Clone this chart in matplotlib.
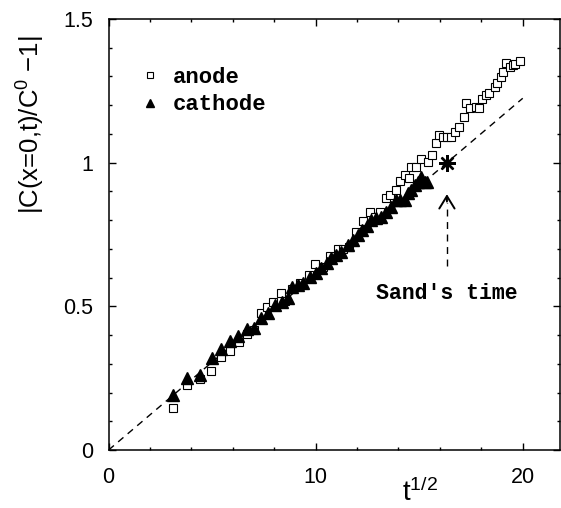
import numpy as np
import matplotlib
matplotlib.use('Agg')
import matplotlib.pyplot as plt

plt.rcParams['font.family'] = ['Liberation Sans', 'DejaVu Sans']
plt.rcParams['mathtext.default'] = 'regular'

# anode (open squares)
t_anode = [3.12, 3.81, 4.41, 4.94, 5.42, 5.87, 6.29, 6.66, 7.03, 7.35, 7.67, 7.95,
           8.32, 8.50, 8.88, 9.23, 9.67, 9.96, 10.36, 10.68, 11.08, 11.32, 11.61,
           11.97, 12.29, 12.61, 12.85, 13.12, 13.38, 13.57, 13.90, 14.09, 14.30,
           14.49, 14.62, 14.83, 15.10, 15.42, 15.63, 15.79, 15.95, 16.15, 16.34,
           16.55, 16.71, 16.92, 17.14, 17.27, 17.43, 17.72, 17.88, 18.05, 18.21,
           18.37, 18.64, 18.75, 18.96, 19.04, 19.20, 19.40, 19.52, 19.65, 19.85]
c_anode = [0.146, 0.226, 0.246, 0.276, 0.325, 0.346, 0.375, 0.404, 0.418, 0.476,
           0.499, 0.516, 0.548, 0.520, 0.559, 0.580, 0.608, 0.646, 0.638, 0.676,
           0.698, 0.700, 0.708, 0.760, 0.797, 0.827, 0.812, 0.827, 0.878, 0.888,
           0.905, 0.936, 0.957, 0.948, 0.986, 0.986, 1.012, 1.003, 1.026, 1.067,
           1.096, 1.090, 1.090, 1.090, 1.105, 1.125, 1.158, 1.209, 1.189, 1.195,
           1.190, 1.221, 1.236, 1.244, 1.265, 1.276, 1.297, 1.317, 1.346, 1.334,
           1.340, 1.344, 1.355]

# cathode (filled triangles)
t_cathode = [3.12, 3.81, 4.41, 4.97, 5.45, 5.86, 6.26, 6.66, 7.03, 7.38, 7.71, 8.03,
             8.35, 8.67, 8.88, 9.15, 9.39, 9.72, 10.00, 10.28, 10.55, 10.76, 11.00,
             11.24, 11.56, 11.80, 12.05, 12.26, 12.48, 12.69, 12.93, 13.17, 13.42,
             13.66, 13.86, 14.06, 14.30, 14.46, 14.62, 14.78, 14.94, 15.10, 15.26, 15.40]
c_cathode = [0.191, 0.249, 0.261, 0.319, 0.350, 0.380, 0.398, 0.420, 0.426, 0.460,
             0.478, 0.505, 0.516, 0.528, 0.566, 0.574, 0.580, 0.603, 0.617, 0.632,
             0.650, 0.667, 0.679, 0.690, 0.714, 0.731, 0.748, 0.766, 0.780, 0.801,
             0.807, 0.812, 0.829, 0.847, 0.870, 0.870, 0.870, 0.893, 0.905, 0.922,
             0.934, 0.951, 0.934, 0.934]

sand_t = 16.34          # sqrt of Sand's time
line_t = [0, 20]

fig = plt.figure(figsize=(5.61, 5.08), dpi=100)
ax = fig.add_axes([0.1936, 0.1142, 0.8046, 0.8484])

ax.plot(line_t, [v / sand_t for v in line_t], color='black', linestyle=(0, (5, 4)),
        linewidth=1.0)
ax.plot(t_anode, c_anode, linestyle='none', marker='s', markersize=5.5,
        markerfacecolor='white', markeredgecolor='black', markeredgewidth=0.8,
        label='anode')
ax.plot(t_cathode, c_cathode, linestyle='none', marker='^', markersize=8,
        color='black', label='cathode')
ax.plot([sand_t], [1.0], linestyle='none', marker=(8, 2, 0), markersize=12,
        markeredgewidth=1.7, color='black')

# arrow pointing at Sand's time
ax.plot([sand_t, sand_t], [0.64, 0.86], color='black', linestyle=(0, (5, 4)),
        linewidth=1.0)
ax.annotate('', xy=(sand_t, 0.9), xytext=(sand_t, 0.855),
            arrowprops=dict(arrowstyle='->,head_length=0.9,head_width=0.55',
                            color='black', linewidth=1.4))
ax.text(sand_t, 0.546, "Sand's time", ha='center', va='center', fontsize=15.5,
        family='Liberation Mono', fontweight='bold')

ax.set_xlim(0, 21.8)
ax.set_ylim(0, 1.5)
ax.set_xticks([0, 10, 20])
ax.set_xticks(np.arange(0, 21, 2), minor=True)
ax.set_yticks([0, 0.5, 1, 1.5])
ax.set_yticklabels(['0', '0.5', '1', '1.5'])
ax.set_yticks(np.arange(0, 1.51, 0.1), minor=True)
ax.tick_params(which='both', direction='in', top=True, right=True, labelsize=15.5,
               width=1.0)
ax.tick_params(which='major', length=5)
ax.tick_params(which='minor', length=2.5)
ax.tick_params(axis='x', pad=12)
ax.tick_params(axis='y', pad=11)
for s in ax.spines.values():
    s.set_linewidth(1.1)

ax.set_xlabel('t$^{1/2}$', fontsize=20)
ax.xaxis.set_label_coords(0.69, -0.065)
ax.set_ylabel('|C(x=0,t)/C$^0$ $-$1|', fontsize=18.5)
ax.yaxis.set_label_coords(-0.137, 0.755)

ax.legend(loc='upper left', bbox_to_anchor=(0.053, 0.91), frameon=False,
          handlelength=0.8, handletextpad=0.6, labelspacing=0.3, borderaxespad=0,
          markerscale=0.75,
          prop={'family': 'Liberation Mono', 'size': 16, 'weight': 'bold'})

fig.savefig('out.png', dpi=100)
